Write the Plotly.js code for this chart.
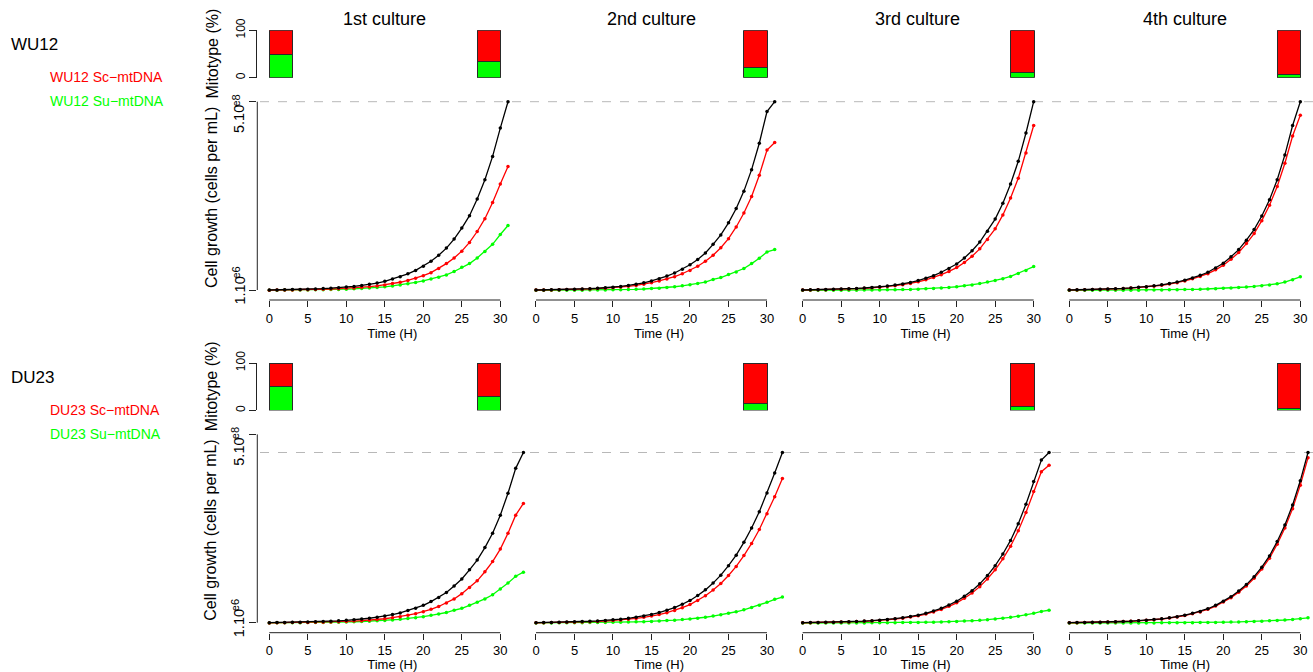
<!DOCTYPE html>
<html>
<head>
<meta charset="utf-8">
<script src="https://cdn.plot.ly/plotly-3.0.1.min.js"></script>
<style>
html,body{margin:0;padding:0;background:#ffffff;}
#chart{width:1313px;height:672px;}
</style>
</head>
<body>
<div id="chart"></div>
<script>
// ---------------- DATA ----------------
const CULTURES = ['1st culture', '2nd culture', '3rd culture', '4th culture'];
const STRAINS = ['WU12', 'DU23'];
const SERIES_LABELS = ['Sc\u2212mtDNA', 'Su\u2212mtDNA'];
const X_TICKS = [0, 5, 10, 15, 20, 25, 30];
const Y_TICK_VALUES = [1, 500];                       // cells per mL, in units of 10^6
const Y_TICK_TEXT = ['1.10', '5.10'];
const Y_TICK_EXP = ['e6', 'e8'];
const MITO_TICK_VALUES = [0, 100];
const MITO_TICK_TEXT = ['0', '100'];
const MITO_SAMPLES = ['start', 'end'];

const TIME_30 = [0,1,2,3,4,5,6,7,8,9,10,11,12,13,14,15,16,17,18,19,20,21,22,23,24,25,26,27,28,29,30];
const TIME_31 = [0,1,2,3,4,5,6,7,8,9,10,11,12,13,14,15,16,17,18,19,20,21,22,23,24,25,26,27,28,29,30,31];
const TIME_32 = [0,1,2,3,4,5,6,7,8,9,10,11,12,13,14,15,16,17,18,19,20,21,22,23,24,25,26,27,28,29,30,31,32];
const TIME_33 = [0,1,2,3,4,5,6,7,8,9,10,11,12,13,14,15,16,17,18,19,20,21,22,23,24,25,26,27,28,29,30,31,32,33];

// cell growth, 10^6 cells per mL
const WU12_C1_TOTAL = [1.0,1.3,1.6,2.0,2.5,3.1,3.8,4.7,5.8,7.1,8.7,10.6,13.0,16.0,19.5,24,30,36,44,53,64,77,93,112,136,165,198,242,293,355,430,500];
const WU12_C1_SC    = [0.5,0.7,0.9,1.2,1.55,1.95,2.4,3.0,3.7,4.5,5.5,6.6,8.0,9.8,11.9,14.5,18.2,21.5,26.4,32,39,47,58,71,86,104,127,156,190,233,282,328];
const WU12_C1_SU    = [0.5,0.6,0.7,0.8,0.95,1.15,1.4,1.7,2.1,2.6,3.2,4.0,5.0,6.2,7.6,9.5,11.8,14.5,17.6,21,25,30,35,41,50,61,71,86,103,122,148,172];

const WU12_C2_TOTAL = [1.0,1.25,1.55,1.95,2.45,3.0,3.7,4.6,5.7,7.0,8.6,10.6,13,16,20,25,31,38,46,56,68,82,99,122,147,179,217,263,320,390,474,500];
const WU12_C2_SC    = [0.8,1.0,1.25,1.6,2.0,2.45,3.05,3.8,4.75,5.85,7.2,8.85,10.8,13.2,16.4,20.3,25.1,30.4,36.4,44,53,64,77,93,113,137,168,205,249,305,372,392];
const WU12_C2_SU    = [0.2,0.25,0.3,0.35,0.45,0.55,0.65,0.8,0.95,1.15,1.4,1.75,2.2,2.8,3.6,4.7,5.9,7.6,9.6,12,15,18,22,29,34,42,49,58,71,85,102,108];

const WU12_C3_TOTAL = [1.0,1.4,1.8,2.2,2.8,3.4,4.2,5.1,6.3,7.7,9.4,11.5,14.1,17.2,21,26,32,39,48,58,70,86,105,128,157,189,231,282,342,417,500];
const WU12_C3_SC    = [0.8,1.18,1.54,1.9,2.44,2.97,3.68,4.47,5.53,6.75,8.25,10.1,12.35,15.05,18.35,22.7,27.9,34,41.7,50.2,60.4,74,90.5,110,135,163,200,245,297,364,437];
const WU12_C3_SU    = [0.2,0.22,0.26,0.3,0.36,0.43,0.52,0.63,0.77,0.95,1.15,1.4,1.75,2.15,2.65,3.3,4.1,5.0,6.3,7.8,9.6,12,14.5,18,22,26,31,37,45,53,63];

const WU12_C4_TOTAL = [1.0,1.4,1.8,2.3,2.8,3.5,4.3,5.3,6.5,8.0,9.8,12,14.7,18,22,27,33,40,48,59,72,89,108,133,161,197,240,293,359,437,500];
const WU12_C4_SC    = [0.87,1.25,1.62,2.09,2.55,3.2,3.94,4.87,5.98,7.38,9.05,11.1,13.6,16.65,20.35,25,30.5,37,44.3,54.5,66.5,82.5,100.3,124,150.5,184.8,225.5,275.5,337,409,464];
const WU12_C4_SU    = [0.13,0.15,0.18,0.21,0.25,0.3,0.36,0.43,0.52,0.62,0.75,0.9,1.1,1.35,1.65,2.0,2.5,3.0,3.7,4.5,5.5,6.5,7.7,9.0,10.5,12.2,14.5,17.5,22,28,36];

const DU23_C1_TOTAL = [1.0,1.35,1.7,2.1,2.5,3.0,3.6,4.3,5.1,6.1,7.3,8.8,10.6,12.8,15.5,18.5,22.5,27,33,39,47,57,68,81,98,117,141,167,200,238,286,344,410,452];
const DU23_C1_SC    = [0.5,0.75,0.95,1.2,1.45,1.75,2.1,2.5,3.0,3.6,4.4,5.3,6.4,7.8,9.5,11.5,14.2,17,20.8,24.8,30,36.5,44,53,64,78,94,112,136,163,196,238,286,317];
const DU23_C1_SU    = [0.5,0.6,0.75,0.9,1.05,1.25,1.5,1.8,2.1,2.5,2.9,3.5,4.2,5.0,6.0,7.0,8.3,10,12.2,14.2,17,20.5,24,28,34,39,47,55,64,75,90,106,124,135];

const DU23_C2_TOTAL = [1.0,1.3,1.7,2.1,2.6,3.2,3.9,4.8,5.8,7.0,8.5,10.4,12.7,15.5,19,23,28,34,41,50,60,73,88,106,127,152,180,214,252,295,345,398,452];
const DU23_C2_SC    = [0.7,0.92,1.23,1.53,1.9,2.35,2.9,3.6,4.4,5.35,6.6,8.1,10,12.3,15.2,18.5,22.6,27.5,33.2,40.7,49,60,72.5,87.5,105,126,150,179,211,248,290,335,383];
const DU23_C2_SU    = [0.3,0.38,0.47,0.57,0.7,0.85,1.0,1.2,1.4,1.65,1.9,2.3,2.7,3.2,3.8,4.5,5.4,6.5,7.8,9.3,11,13,15.5,18.5,22,26,30,35,41,47,55,63,69];

const DU23_C3_TOTAL = [1.0,1.3,1.6,1.9,2.4,2.9,3.5,4.3,5.2,6.4,7.8,9.5,11.6,14.2,17.4,21,26,32,39,48,58,71,86,104,126,152,183,219,263,315,375,432,452];
const DU23_C3_SC    = [0.88,1.16,1.43,1.7,2.16,2.61,3.16,3.89,4.71,5.81,7.1,8.66,10.6,13,15.95,19.25,23.9,29.5,36,44.4,53.7,65.8,79.8,96.6,117.1,141.3,170.2,203.7,244.7,293.2,349,401,418];
const DU23_C3_SU    = [0.12,0.14,0.17,0.2,0.24,0.29,0.34,0.41,0.49,0.59,0.7,0.84,1.0,1.2,1.45,1.75,2.1,2.5,3.0,3.6,4.3,5.2,6.2,7.4,8.9,10.7,12.8,15.3,18.3,21.8,26,31,34];

const DU23_C4_TOTAL = [1.0,1.25,1.55,1.9,2.3,2.8,3.4,4.2,5.1,6.2,7.6,9.3,11.4,14,17,21,26,31,38,47,58,70,85,102,123,148,178,216,260,313,377,452];
const DU23_C4_SC    = [0.92,1.15,1.44,1.77,2.14,2.62,3.18,3.95,4.8,5.85,7.19,8.81,10.82,13.32,16.2,20.05,24.88,29.68,36.44,45.16,55.8,67.4,82,98.4,118.8,143,172.1,209.1,251.8,303.3,365.5,438];
const DU23_C4_SU    = [0.08,0.1,0.11,0.13,0.16,0.18,0.22,0.25,0.3,0.35,0.41,0.49,0.58,0.68,0.8,0.95,1.12,1.32,1.56,1.84,2.2,2.6,3.0,3.6,4.2,5.0,5.9,6.9,8.2,9.7,11.5,14];

// mitotype (%) : start of 1st culture, then end of each culture
const WU12_MITO_SC_START = 50, WU12_MITO_SU_START = 50;
const WU12_MITO_SC_END = [66, 78, 88, 94];
const WU12_MITO_SU_END = [34, 22, 12, 6];
const DU23_MITO_SC_START = 50, DU23_MITO_SU_START = 50;
const DU23_MITO_SC_END = [70, 85, 92, 97];
const DU23_MITO_SU_END = [30, 15, 8, 3];

// ---------------- LAYOUT HELPERS ----------------
const W = 1313, H = 672;
const FONT = 'Liberation Sans, Arial, Helvetica, sans-serif';
const RED = '#FF0000', GREEN = '#00FF00', BLACK = '#000000', AXIS = '#222222';
const fx = px => px / W;
const fy = py => 1 - py / H;

const COL_X0 = [269.3, 536, 802.67, 1069.3];   // pixel of t = 0 in each column
const COL_DX = 266.67;
const PPU_X = 7.7;
const X_MIN = -1.56;
const X_MAX = [33.5, 33.5, 33.5, 31.6];
const ROW_DY = 332.7;
const Y_RANGE = [-25.5, 523.06];
const BAR_RANGE = [-0.1129, 1.1023];
const BAR_W = 0.1129;

const PANELS = [
  {r:0, c:0, t:TIME_31, total:WU12_C1_TOTAL, sc:WU12_C1_SC, su:WU12_C1_SU},
  {r:0, c:1, t:TIME_31, total:WU12_C2_TOTAL, sc:WU12_C2_SC, su:WU12_C2_SU},
  {r:0, c:2, t:TIME_30, total:WU12_C3_TOTAL, sc:WU12_C3_SC, su:WU12_C3_SU},
  {r:0, c:3, t:TIME_30, total:WU12_C4_TOTAL, sc:WU12_C4_SC, su:WU12_C4_SU},
  {r:1, c:0, t:TIME_33, total:DU23_C1_TOTAL, sc:DU23_C1_SC, su:DU23_C1_SU},
  {r:1, c:1, t:TIME_32, total:DU23_C2_TOTAL, sc:DU23_C2_SC, su:DU23_C2_SU},
  {r:1, c:2, t:TIME_32, total:DU23_C3_TOTAL, sc:DU23_C3_SC, su:DU23_C3_SU},
  {r:1, c:3, t:TIME_31, total:DU23_C4_TOTAL, sc:DU23_C4_SC, su:DU23_C4_SU}
];
const MITO = [
  {scStart:WU12_MITO_SC_START, suStart:WU12_MITO_SU_START, scEnd:WU12_MITO_SC_END, suEnd:WU12_MITO_SU_END},
  {scStart:DU23_MITO_SC_START, suStart:DU23_MITO_SU_START, scEnd:DU23_MITO_SC_END, suEnd:DU23_MITO_SU_END}
];

const axName = (letter, n) => letter + (n === 1 ? '' : n);
const axKey = (letter, n) => letter + 'axis' + (n === 1 ? '' : n);

const traces = [];
const layout = {
  width: W, height: H,
  margin: {l:0, r:0, t:0, b:0, pad:0},
  paper_bgcolor: '#ffffff',
  plot_bgcolor: 'rgba(0,0,0,0)',
  showlegend: false,
  barmode: 'stack',
  font: {family: FONT, color: BLACK, size: 13},
  shapes: [],
  annotations: []
};

PANELS.forEach((p, i) => {
  const n = i + 1;          // line subplot
  const nb = i + 9;         // mitotype bar subplot
  const x0 = COL_X0[p.c];
  const dy = p.r * ROW_DY;

  // ---- growth curves ----
  [[p.su, GREEN], [p.sc, RED], [p.total, BLACK]].forEach(([vals, col]) => {
    traces.push({
      type: 'scatter', mode: 'lines+markers',
      x: p.t, y: vals,
      xaxis: axName('x', n), yaxis: axName('y', n),
      line: {color: col, width: 1.3},
      marker: {color: col, size: 3.5},
      hoverinfo: 'skip'
    });
  });

  layout[axKey('x', n)] = {
    domain: [fx(x0 + X_MIN * PPU_X), Math.min(1, fx(x0 + X_MAX[p.c] * PPU_X))],
    range: [X_MIN, X_MAX[p.c]],
    anchor: axName('y', n),
    tickvals: X_TICKS, ticktext: X_TICKS.map(String),
    ticks: 'outside', ticklen: 6, tickwidth: 1, tickcolor: AXIS,
    tickfont: {size: 13, family: FONT, color: BLACK},
    showgrid: false, zeroline: false, showline: false,
    title: {text: 'Time (H)', font: {size: 13, family: FONT, color: BLACK}, standoff: 0},
    fixedrange: true
  };
  layout[axKey('y', n)] = {
    domain: [fy(300 + dy), fy(93 + dy)],
    range: Y_RANGE,
    anchor: axName('x', n),
    tickvals: Y_TICK_VALUES,
    ticks: p.c === 0 ? 'outside' : '', ticklen: 7, tickwidth: 1, tickcolor: AXIS,
    showticklabels: false,
    showgrid: false, zeroline: false, showline: false,
    fixedrange: true
  };
  // x axis line between first and last tick
  layout.shapes.push({
    type: 'line', xref: axName('x', n), yref: axName('y', n) + ' domain',
    x0: X_TICKS[0], x1: X_TICKS[X_TICKS.length - 1], y0: 0, y1: 0,
    line: {color: AXIS, width: 1}
  });
  if (p.c === 0) {
    layout.shapes.push({
      type: 'line', xref: axName('x', n) + ' domain', yref: axName('y', n),
      x0: 0, x1: 0, y0: Y_TICK_VALUES[0], y1: Y_TICK_VALUES[1],
      line: {color: AXIS, width: 1}
    });
    // rotated tick labels (mantissa + raised exponent) for the cell growth axis
    [[0, -0.5, 17.5], [1, -17.3, 1.2]].forEach(([k, shiftMain, shiftExp]) => {
      layout.annotations.push({
        xref: 'paper', yref: axName('y', n),
        x: fx(239), y: Y_TICK_VALUES[k], yshift: shiftMain,
        text: Y_TICK_TEXT[k], showarrow: false, textangle: -90,
        xanchor: 'center', yanchor: 'middle',
        font: {size: 14.5, family: FONT, color: BLACK}
      });
      layout.annotations.push({
        xref: 'paper', yref: axName('y', n),
        x: fx(235), y: Y_TICK_VALUES[k], yshift: shiftExp,
        text: Y_TICK_EXP[k], showarrow: false, textangle: -90,
        xanchor: 'center', yanchor: 'middle',
        font: {size: 11, family: FONT, color: BLACK}
      });
    });
  }

  // ---- mitotype bars ----
  const m = MITO[p.r];
  const bx = p.c === 0 ? MITO_SAMPLES : [MITO_SAMPLES[1]];
  const suVals = p.c === 0 ? [m.suStart, m.suEnd[0]] : [m.suEnd[p.c]];
  const scVals = p.c === 0 ? [m.scStart, m.scEnd[0]] : [m.scEnd[p.c]];
  [[suVals, GREEN], [scVals, RED]].forEach(([vals, col]) => {
    traces.push({
      type: 'bar', x: bx, y: vals, width: BAR_W,
      xaxis: axName('x', nb), yaxis: axName('y', nb),
      marker: {color: col, line: {color: '#2a2a2a', width: 1}},
      hoverinfo: 'skip'
    });
  });
  layout[axKey('x', nb)] = {
    domain: [fx(257.3 + COL_DX * p.c), fx(510.3 + COL_DX * p.c)],
    type: 'category', categoryorder: 'array', categoryarray: MITO_SAMPLES,
    range: BAR_RANGE, anchor: axName('y', nb),
    visible: false, fixedrange: true
  };
  layout[axKey('y', nb)] = {
    domain: [fy(77.7 + dy), fy(30.3 + dy)],
    range: [0, 100],
    anchor: axName('x', nb),
    visible: p.c === 0,
    tickvals: MITO_TICK_VALUES, ticktext: MITO_TICK_TEXT,
    tickangle: -90,
    ticks: 'outside', ticklen: 7, tickwidth: 1, tickcolor: AXIS,
    tickfont: {size: 12, family: FONT, color: BLACK},
    showline: true, linecolor: AXIS, linewidth: 1,
    showgrid: false, zeroline: false, fixedrange: true
  };
});

// dashed line at the maximum total growth of each strain
[0, 1].forEach(r => {
  const rowMax = Math.max(...PANELS.filter(p => p.r === r).map(p => Math.max(...p.total)));
  layout.shapes.push({
    type: 'line', xref: 'paper', yref: axName('y', r * 4 + 1),
    x0: fx(260), x1: 1, y0: rowMax, y1: rowMax,
    line: {color: '#b8b8b8', width: 1, dash: 'dash'},
    layer: 'below'
  });
});

// culture titles
CULTURES.forEach((txt, c) => {
  layout.annotations.push({
    xref: 'paper', yref: 'paper', x: fx(384.5 + COL_DX * c), y: fy(19),
    text: txt, showarrow: false, xanchor: 'center', yanchor: 'middle',
    font: {size: 18, family: FONT, color: BLACK}
  });
});

// strain labels, series labels and y titles
STRAINS.forEach((s, r) => {
  const dy = r * ROW_DY;
  layout.annotations.push({
    xref: 'paper', yref: 'paper', x: fx(9), y: fy(45 + dy),
    text: s, showarrow: false, xanchor: 'left', yanchor: 'middle',
    font: {size: 17, family: FONT, color: BLACK}
  });
  [[SERIES_LABELS[0], RED, 77], [SERIES_LABELS[1], GREEN, 101]].forEach(([lab, col, y]) => {
    layout.annotations.push({
      xref: 'paper', yref: 'paper', x: fx(48), y: fy(y + dy),
      text: s + ' ' + lab, showarrow: false, xanchor: 'left', yanchor: 'middle',
      font: {size: 14, family: FONT, color: col}
    });
  });
  layout.annotations.push({
    xref: 'paper', yref: 'paper', x: fx(211.5), y: fy(54 + dy),
    text: 'Mitotype (%)', showarrow: false, textangle: -90,
    xanchor: 'center', yanchor: 'middle',
    font: {size: 16, family: FONT, color: BLACK}
  });
  layout.annotations.push({
    xref: 'paper', yref: 'paper', x: fx(211), y: fy(198 + dy),
    text: 'Cell growth (cells per mL)', showarrow: false, textangle: -90,
    xanchor: 'center', yanchor: 'middle',
    font: {size: 16, family: FONT, color: BLACK}
  });
});

Plotly.newPlot('chart', traces, layout, {staticPlot: true, displayModeBar: false});
</script>
</body>
</html>
